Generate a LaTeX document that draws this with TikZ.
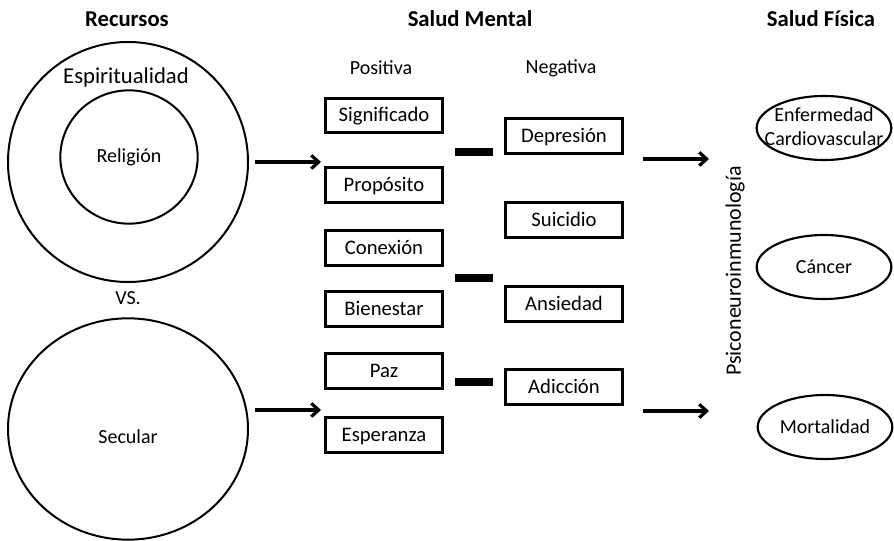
\documentclass[tikz,border=0pt]{standalone}
\usepackage{fontspec}
\setmainfont{Carlito}
\usetikzlibrary{arrows.meta,shapes.geometric}
\begin{document}
\begin{tikzpicture}[x=0.75pt,y=-0.75pt,
  hdr/.style={font=\bfseries\fontsize{17}{20}\selectfont, inner sep=0pt},
  txt/.style={font=\fontsize{15}{18}\selectfont, inner sep=0pt, align=center},
  ring/.style={draw, ellipse, line width=1.5pt, inner sep=0pt},
  boxn/.style={draw, rectangle, line width=2.1pt, minimum width=88pt, minimum height=26pt, inner sep=0pt, text height=9.6pt, text depth=0pt, font=\fontsize{15.5}{18}\selectfont},
  oval/.style={draw, ellipse, line width=1.6pt, minimum width=101pt, minimum height=48pt, inner sep=0pt},
  bar/.style={fill=black, rectangle, minimum width=28pt, minimum height=6pt, inner sep=0pt},
  arr/.style={line width=2.4pt, -{Straight Barb[length=5.5pt,width=10pt,line width=2.4pt]}}
]
\useasboundingbox (0,0) rectangle (894,541);
% headers
\node[hdr] (hrec) at (127,19) {Recursos};
\node[hdr] (hsm) at (470,19) {Salud Mental};
\node[hdr] (hsf) at (821,19) {Salud Física};
% resources
\node[ring, minimum width=180pt, minimum height=180pt] (esp) at (128,162) {};
\node[ring, minimum width=103pt, minimum height=100pt] (rel) at (129,157) {};
\node[font=\fontsize{17}{20}\selectfont, inner sep=0pt] (tesp) at (126,77) {Espiritualidad};
\node[txt] (trel) at (129,157) {Religión};
\node[txt] (vs) at (128,298) {VS.};
\node[ring, minimum width=180pt, minimum height=166pt] (sec) at (128,429) {};
\node[txt] (tsec) at (128,437) {Secular};
% column labels
\node[txt] (pos) at (381,68) {Positiva};
\node[txt] (neg) at (561,68) {Negativa};
% positive boxes
\node[boxn] (b1) at (384,115.5) {Significado};
\node[boxn] (b2) at (384,185) {Propósito};
\node[boxn] (b3) at (384,248) {Conexión};
\node[boxn] (b4) at (384,309) {Bienestar};
\node[boxn] (b5) at (384,371) {Paz};
\node[boxn] (b6) at (384,435) {Esperanza};
% negative boxes
\node[boxn] (n1) at (564,136) {Depresión};
\node[boxn] (n2) at (564,220) {Suicidio};
\node[boxn] (n3) at (564,304) {Ansiedad};
\node[boxn] (n4) at (564,387) {Adicción};
% bars
\node[bar] (bar1) at (474,152) {};
\node[bar] (bar2) at (474,278) {};
\node[bar] (bar3) at (474,382) {};
% arrows
\coordinate (a1s) at (255,162);
\coordinate (a1e) at (321,162);
\coordinate (a2s) at (255,410);
\coordinate (a2e) at (321,410);
\coordinate (a3s) at (643,159);
\coordinate (a3e) at (709,159);
\coordinate (a4s) at (643,411);
\coordinate (a4e) at (709,411);
\draw[arr] (a1s) -- (a1e);
\draw[arr] (a2s) -- (a2e);
\draw[arr] (a3s) -- (a3e);
\draw[arr] (a4s) -- (a4e);
% vertical label
\node[font=\fontsize{16.5}{19}\selectfont, inner sep=0pt, rotate=90] (psi) at (735,271) {Psiconeuroinmunología};
% outcomes
\node[oval] (o1) at (824,128) {};
\node[txt] (to1) at (824,127) {Enfermedad\\Cardiovascular};
\node[oval] (o2) at (824,267) {};
\node[txt, text height=9.6pt, text depth=0pt] (to2) at (824,267) {Cáncer};
\node[oval] (o3) at (825,427) {};
\node[txt, text height=9.6pt, text depth=0pt] (to3) at (825,427) {Mortalidad};
\end{tikzpicture}
\end{document}
